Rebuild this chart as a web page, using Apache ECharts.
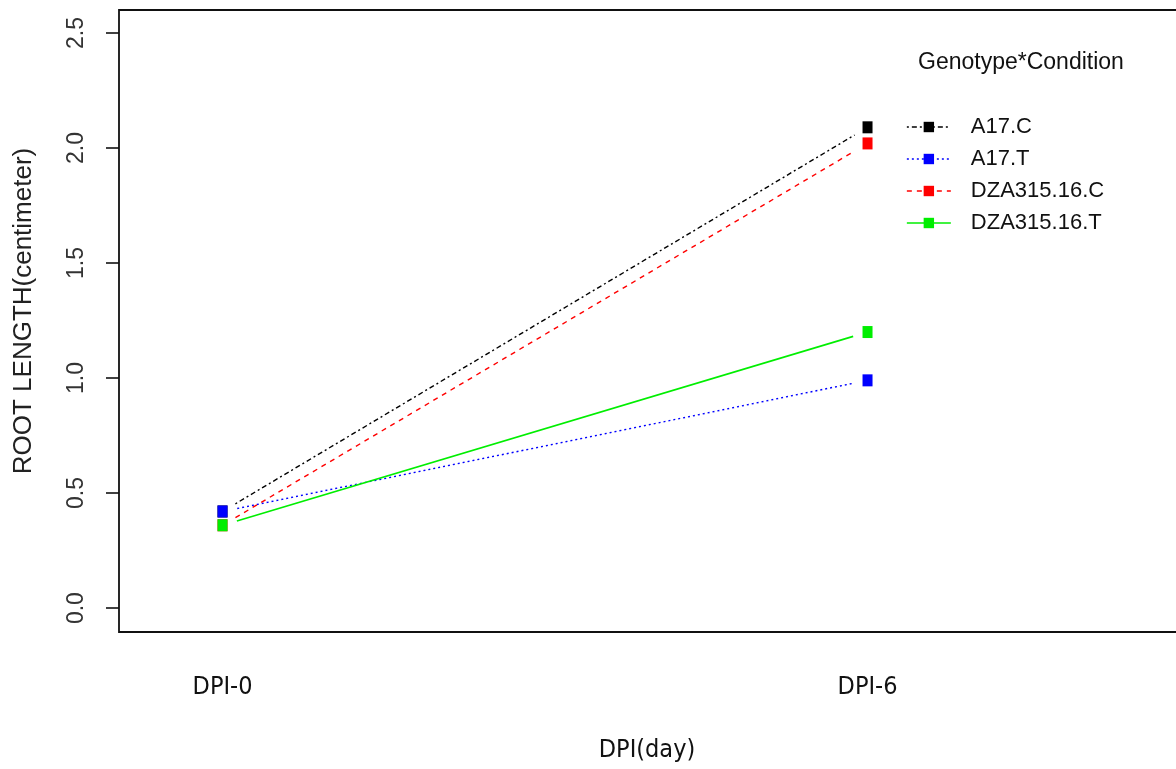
<!DOCTYPE html>
<html>
<head>
<meta charset="utf-8">
<script src="https://cdn.jsdelivr.net/npm/echarts@6/dist/echarts.min.js"></script>
<style>html,body{margin:0;padding:0;background:#fff;}#chart{width:1176px;height:769px;}</style>
</head>
<body>
<div id="chart"></div>
<script>
// ---- data ----
const xCategories = ['DPI-0', 'DPI-6'];
const xPositions = [0, 1];
const seriesNames = ['A17.C', 'A17.T', 'DZA315.16.C', 'DZA315.16.T'];
const a17C = [0.42, 2.09];
const a17T = [0.42, 0.99];
const dzaC = [0.36, 2.02];
const dzaT = [0.36, 1.20];
const yTicks = [0, 0.5, 1.0, 1.5, 2.0, 2.5];
const yTickLabels = ['0.0', '0.5', '1.0', '1.5', '2.0', '2.5'];
const legendTitle = 'Genotype*Condition';
const xTitle = 'DPI(day)';
const yTitle = 'ROOT LENGTH(centimeter)';

// ---- styles ----
const values = [a17C, a17T, dzaC, dzaT];
const colors = ['#000000', '#0000ff', '#ff0000', '#00ee00'];
const dashes = [[2, 3, 5, 3], [2, 3], [5, 5], 'solid'];
const widths = [1.4, 1.4, 1.4, 1.7];
const GAP = 15;
const regular = "'Liberation Sans', Arial, sans-serif";
const narrow = "'Liberation Sans Narrow', 'DejaVu Sans Condensed', 'Liberation Sans', sans-serif";

const series = [];
// gapped connecting lines (R type="b" style)
values.forEach(function (v, i) {
  series.push({
    type: 'custom',
    z: 2,
    silent: true,
    clip: false,
    data: [[xPositions[0], v[0], xPositions[1], v[1]]],
    encode: { x: [0, 2], y: [1, 3] },
    renderItem: function (params, api) {
      const p0 = api.coord([api.value(0), api.value(1)]);
      const p1 = api.coord([api.value(2), api.value(3)]);
      const dx = p1[0] - p0[0], dy = p1[1] - p0[1];
      const len = Math.sqrt(dx * dx + dy * dy);
      const ux = dx / len, uy = dy / len;
      return {
        type: 'line',
        shape: { x1: p0[0] + ux * GAP, y1: p0[1] + uy * GAP, x2: p1[0] - ux * GAP, y2: p1[1] - uy * GAP },
        style: { stroke: colors[i], lineWidth: widths[i], lineDash: dashes[i] === 'solid' ? null : dashes[i] }
      };
    }
  });
});
// markers
values.forEach(function (v, i) {
  series.push({
    type: 'line',
    name: seriesNames[i],
    z: 3,
    data: xPositions.map(function (x, k) { return [x, v[k]]; }),
    symbol: 'rect',
    symbolSize: [10, 12],
    showSymbol: true,
    itemStyle: { color: colors[i] },
    lineStyle: { color: colors[i], type: dashes[i], width: widths[i], opacity: 0 },
    emphasis: { disabled: true },
    silent: true
  });
});

const chart = echarts.init(document.getElementById('chart'));
chart.setOption({
  animation: false,
  backgroundColor: '#ffffff',
  title: {
    text: legendTitle,
    left: 918, top: 51, padding: 0,
    textStyle: { fontSize: 23, fontWeight: 'normal', fontFamily: regular, color: '#111' }
  },
  legend: {
    orient: 'vertical',
    left: 906, top: 116, padding: 0,
    itemWidth: 44, itemHeight: 13, itemGap: 10,
    selectedMode: false,
    textStyle: { fontSize: 22, fontFamily: regular, color: '#111', padding: [0, 0, 0, 15] },
    data: seriesNames.map(function (n, i) {
      return { name: n, lineStyle: { color: colors[i], type: dashes[i], width: widths[i], opacity: 1 } };
    })
  },
  grid: {
    left: 119, width: 1070, top: 10, bottom: 137,
    outerBoundsMode: 'none', containLabel: false,
    show: true, borderColor: '#111', borderWidth: 1.8, backgroundColor: 'transparent'
  },
  xAxis: {
    type: 'value',
    min: -0.1605, max: 1.4984,
    splitLine: { show: false },
    axisLine: { show: false, onZero: false },
    axisTick: { show: false },
    axisLabel: {
      customValues: xPositions,
      formatter: function (val) { return xCategories[xPositions.indexOf(val)]; },
      fontSize: 25, fontFamily: narrow, color: '#111', margin: 43
    },
    name: xTitle, nameLocation: 'middle', nameGap: 106,
    nameTextStyle: { fontSize: 25, fontFamily: narrow, color: '#111', padding: [0, 14, 0, 0] }
  },
  yAxis: {
    type: 'value',
    min: -0.104, max: 2.6,
    splitLine: { show: false },
    axisLine: { show: false, onZero: false },
    axisTick: { show: true, customValues: yTicks, length: 13, lineStyle: { color: '#111', width: 1.6 } },
    axisLabel: {
      customValues: yTicks,
      formatter: function (val) { return yTickLabels[yTicks.indexOf(val)]; },
      rotate: 90, fontSize: 23, fontFamily: regular, color: '#333', margin: 31
    },
    name: yTitle, nameLocation: 'middle', nameGap: 82,
    nameTextStyle: { fontSize: 26, fontFamily: regular, color: '#222', padding: [0, 0, 0, 20] }
  },
  series: series
});
</script>
</body>
</html>
